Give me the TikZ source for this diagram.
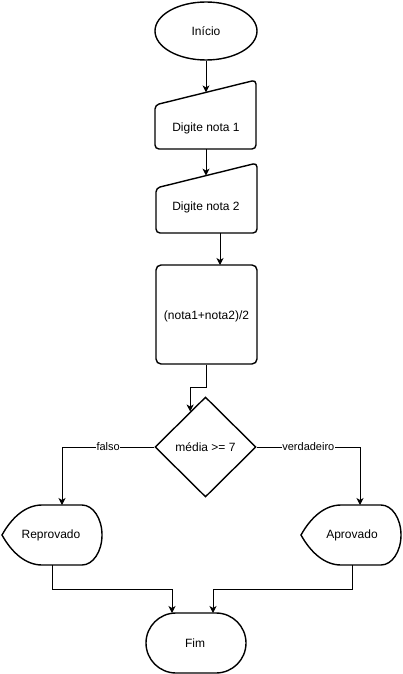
\documentclass[tikz,border=0pt]{standalone}
\usepackage{fontspec}
\setmainfont{Liberation Sans}
\usetikzlibrary{shapes.geometric,shapes.misc,arrows.meta,calc}
\begin{document}
\begin{tikzpicture}[x=1pt,y=-1pt,
  every node/.style={font=\fontsize{12}{14}\selectfont, inner sep=0pt},
  shp/.style={draw=black, line width=1.4pt},
  arr/.style={draw=black, line width=0.9pt, -{Stealth[length=7pt,width=7pt,inset=2pt]}},
  lbl/.style={fill=white, font=\fontsize{11}{13}\selectfont, inner sep=0.5pt}]
\useasboundingbox (0,0) rectangle (402,674);
% start
\node[shp, ellipse, minimum width=102pt, minimum height=58pt] (ini) at (206,31) {Início};
% manual input 1
\draw[shp, rounded corners=4pt] (155,105) -- (256,80) -- (256,149) -- (155,149) -- cycle;
\node (n1) at (206,128) {Digite nota 1};
\coordinate (n1top) at (206,92.4);
\coordinate (n1bot) at (206,149);
% manual input 2
\draw[shp, rounded corners=4pt] (156,188) -- (257,163) -- (257,233) -- (156,233) -- cycle;
\node (n2) at (206,207) {Digite nota 2};
\coordinate (n2top) at (206,175.6);
\coordinate (n2bot) at (220,233);
% process
\node[shp, rounded corners=5pt, minimum width=101pt, minimum height=99pt] (calc) at (206.5,314.5) {};
\node at (206.5,316) {(nota1+nota2)/2};
% decision
\node[shp, diamond, minimum width=101pt, minimum height=100pt] (dec) at (205.5,447) {};
\node at (205.5,447) {média >= 7};
% display shapes
\draw[shp] (2,535) .. controls (12,517) and (26,505) .. (42,505) -- (82,505)
  .. controls (93,505) and (102,518.4) .. (102,535)
  .. controls (102,551.6) and (93,565) .. (82,565) -- (42,565)
  .. controls (26,565) and (12,553) .. cycle;
\node (rep) at (51,535) {Reprovado};
\coordinate (reptop) at (62,505);
\coordinate (repbot) at (52,565);
\draw[shp] (301,535) .. controls (311,517) and (325,505) .. (341,505) -- (381,505)
  .. controls (392,505) and (401,518.4) .. (401,535)
  .. controls (401,551.6) and (392,565) .. (381,565) -- (341,565)
  .. controls (325,565) and (311,553) .. cycle;
\node (apr) at (352,535) {Aprovado};
\coordinate (aprtop) at (360,505);
\coordinate (aprbot) at (352,565);
% end
\node[shp, rounded rectangle, minimum width=100pt, minimum height=60pt] (fim) at (196,643) {};
\node at (195,643) {Fim};
\coordinate (fimL) at (172,613);
\coordinate (fimR) at (213,613);
% connectors
\draw[arr] (ini.south) -- (n1top);
\draw[arr] (n1bot) -- (n2top);
\draw[arr] (n2bot) -- (220,265);
\draw[arr] (calc.south) -- ++(0,23) -| ($(dec.north)!0.3!(dec.west)$);
\draw[arr] (dec.west) -| node[pos=0.25, lbl] {falso} (reptop);
\draw[arr] (dec.east) -| node[pos=0.25, lbl] {verdadeiro} (aprtop);
\draw[arr] (repbot) -- ++(0,24) -| (fimL);
\draw[arr] (aprbot) -- ++(0,24) -| (fimR);
\end{tikzpicture}
\end{document}
